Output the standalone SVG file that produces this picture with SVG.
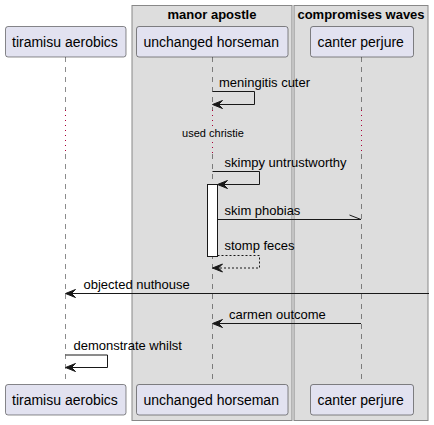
<svg xmlns="http://www.w3.org/2000/svg" width="434" height="425" viewBox="0 0 434 425">
<style>
.grp{fill:#DDDDDD;stroke:#888888;stroke-width:1;}
.gt{font-family:"Liberation Sans",Arial,sans-serif;font-size:13px;font-weight:bold;fill:#000;text-anchor:middle;}
.pbox{fill:#E2E2F0;stroke:#181818;stroke-width:0.5;}
.pt{font-family:"Liberation Sans",Arial,sans-serif;font-size:14px;fill:#000;}
.life{stroke:#181818;stroke-width:0.5;stroke-dasharray:5,5;fill:none;}
.delay{stroke:#A80036;stroke-width:1;stroke-dasharray:1,4;fill:none;}
.msg{stroke:#181818;stroke-width:1;fill:none;}
.dash{stroke:#181818;stroke-width:1;fill:none;stroke-dasharray:2,2;}
.ah{fill:#181818;stroke:#181818;stroke-width:1;}
.ml{font-family:"Liberation Sans",Arial,sans-serif;font-size:13px;fill:#000;}
.dl{font-family:"Liberation Sans",Arial,sans-serif;font-size:11px;fill:#000;text-anchor:middle;}
</style>
<g id="box-manor-apostle">
<rect class="grp" x="132" y="5.5" width="160" height="415"/>
<text class="gt" x="212" y="19">manor apostle</text>
</g>
<g id="box-compromises-waves">
<rect class="grp" x="294" y="5.5" width="134" height="415"/>
<text class="gt" x="361" y="19">compromises waves</text>
</g>
<g id="lifelines">
<line class="life" x1="65.5" y1="57" x2="65.5" y2="110"/>
<line class="delay" x1="65.5" y1="110" x2="65.5" y2="154"/>
<line class="life" x1="65.5" y1="154" x2="65.5" y2="384"/>
<line class="life" x1="212.5" y1="57" x2="212.5" y2="110"/>
<line class="delay" x1="212.5" y1="110" x2="212.5" y2="127"/>
<line class="delay" x1="212.5" y1="142" x2="212.5" y2="154"/>
<line class="life" x1="212.5" y1="154" x2="212.5" y2="384"/>
<line class="life" x1="361.5" y1="57" x2="361.5" y2="110"/>
<line class="delay" x1="361.5" y1="110" x2="361.5" y2="154"/>
<line class="life" x1="361.5" y1="154" x2="361.5" y2="384"/>
</g>
<g id="p-tiramisu-aerobics">
<rect class="pbox" x="5.5" y="26.5" width="120.5" height="30.5" rx="2.5"/>
<text class="pt" x="12" y="47">tiramisu aerobics</text>
<rect class="pbox" x="5.5" y="384.5" width="120.5" height="30.5" rx="2.5"/>
<text class="pt" x="12" y="405">tiramisu aerobics</text>
</g>
<g id="p-unchanged-horseman">
<rect class="pbox" x="136.5" y="26.5" width="151.5" height="30.5" rx="2.5"/>
<text class="pt" x="143.5" y="47">unchanged horseman</text>
<rect class="pbox" x="136.5" y="384.5" width="151.5" height="30.5" rx="2.5"/>
<text class="pt" x="143.5" y="405">unchanged horseman</text>
</g>
<g id="p-canter-perjure">
<rect class="pbox" x="310.5" y="26.5" width="103" height="30.5" rx="2.5"/>
<text class="pt" x="317.5" y="47">canter perjure</text>
<rect class="pbox" x="310.5" y="384.5" width="103" height="30.5" rx="2.5"/>
<text class="pt" x="317.5" y="405">canter perjure</text>
</g>
<g id="activation">
<rect x="207.5" y="184.5" width="10" height="72" fill="#FFFFFF" stroke="#181818" stroke-width="1"/>
</g>
<g id="delay-label">
<text class="dl" x="213" y="137">used christie</text>
</g>
<g id="connectors">
<polyline class="msg" points="212.5,91.5 254.5,91.5 254.5,104.5 213.5,104.5"/>
<polygon class="ah" points="222.5,100.5 212.5,104.5 222.5,108.5 218.5,104.5"/>
<text class="ml" x="219" y="87">meningitis cuter</text>

<polyline class="msg" points="212.5,171.5 259.5,171.5 259.5,184.5 218.5,184.5"/>
<polygon class="ah" points="227.5,180.5 217.5,184.5 227.5,188.5 223.5,184.5"/>
<text class="ml" x="224.5" y="167">skimpy untrustworthy</text>

<line class="msg" x1="217.5" y1="219.5" x2="361" y2="219.5"/>
<line class="msg" x1="361" y1="219.5" x2="349.5" y2="215"/>
<text class="ml" x="224.5" y="214.5">skim phobias</text>

<polyline class="dash" points="217.5,255.5 259.5,255.5 259.5,268 213.5,268"/>
<polygon class="ah" points="222.5,264 212.5,268 222.5,272 218.5,268"/>
<text class="ml" x="224.5" y="250">stomp feces</text>

<line class="msg" x1="429" y1="293.5" x2="66.5" y2="293.5"/>
<polygon class="ah" points="75.5,289.5 65.5,293.5 75.5,297.5 71.5,293.5"/>
<text class="ml" x="83.5" y="288.5">objected nuthouse</text>

<line class="msg" x1="361" y1="323.5" x2="213.5" y2="323.5"/>
<polygon class="ah" points="222.5,319.5 212.5,323.5 222.5,327.5 218.5,323.5"/>
<text class="ml" x="229" y="318.5">carmen outcome</text>

<polyline class="msg" points="65.5,355 107.5,355 107.5,367.5 66.5,367.5"/>
<polygon class="ah" points="75.5,363.5 65.5,367.5 75.5,371.5 71.5,367.5"/>
<text class="ml" x="73.5" y="350">demonstrate whilst</text>
</g>
</svg>
